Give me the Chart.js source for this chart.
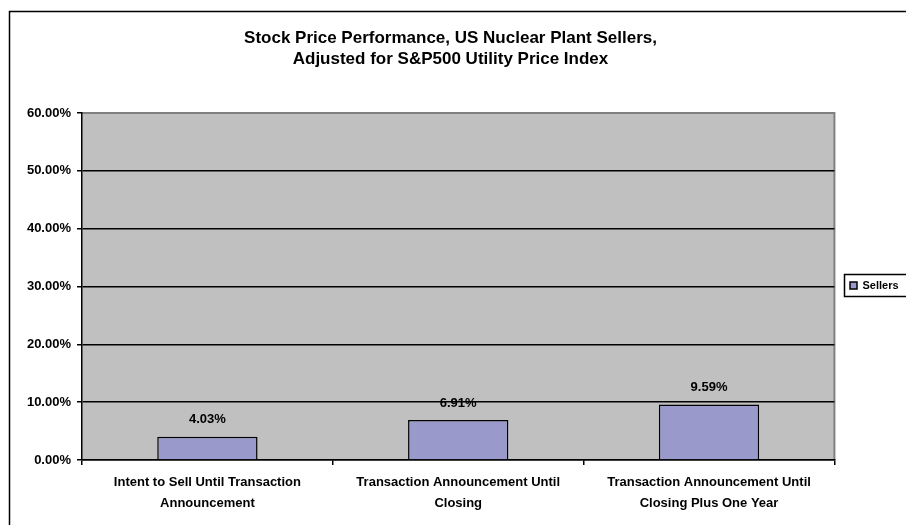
<!DOCTYPE html>
<html>
<head>
<meta charset="utf-8">
<script src="https://cdn.jsdelivr.net/npm/chart.js@4.4.1/dist/chart.umd.min.js"></script>
<style>
  html, body { margin: 0; padding: 0; background: #fff; }
  #wrap { width: 906px; height: 525px; }
</style>
</head>
<body>
<div id="wrap"><canvas id="chart" width="906" height="525"></canvas></div>
<script>
const categories = [
  ['Intent to Sell Until Transaction', 'Announcement'],
  ['Transaction Announcement Until', 'Closing'],
  ['Transaction Announcement Until', 'Closing Plus One Year']
];
const sellers = [4.03, 6.91, 9.59];
const seriesName = 'Sellers';
const titleLines = ['Stock Price Performance, US Nuclear Plant Sellers,', 'Adjusted for S&P500 Utility Price Index'];
const yMin = 0, yMax = 60, yStep = 10;

const FONT = '"Liberation Sans", Arial, sans-serif';

// grey plot area + outer frame
const backdrop = {
  id: 'backdrop',
  beforeDraw(chart) {
    const { ctx, chartArea: a } = chart;
    ctx.save();
    ctx.fillStyle = '#fff';
    ctx.fillRect(0, 0, chart.width, chart.height);
    ctx.fillStyle = '#c0c0c0';
    ctx.fillRect(a.left, a.top, a.right - a.left, a.bottom - a.top);
    ctx.strokeStyle = '#808080';
    ctx.lineWidth = 2;
    ctx.beginPath();
    ctx.moveTo(a.left, a.top);
    ctx.lineTo(a.right, a.top);
    ctx.lineTo(a.right, a.bottom);
    ctx.stroke();
    ctx.strokeStyle = '#000';
    ctx.lineWidth = 1.5;
    ctx.strokeRect(9.5, 11.5, 950, 560);
    ctx.restore();
  }
};

// value labels above the bars
const barLabels = {
  id: 'barLabels',
  afterDatasetsDraw(chart) {
    const { ctx } = chart;
    const meta = chart.getDatasetMeta(0);
    ctx.save();
    ctx.font = 'bold 13px ' + FONT;
    ctx.fillStyle = '#000';
    ctx.textAlign = 'center';
    ctx.textBaseline = 'middle';
    meta.data.forEach((bar, i) => {
      ctx.fillText(sellers[i].toFixed(2) + '%', bar.x, bar.y - 17);
    });
    ctx.restore();
  }
};

// move the legend next to the plot, middle height, and box it
const legendBox = {
  id: 'legendBox',
  afterUpdate(chart) {
    const lg = chart.legend;
    if (!lg || !lg.legendHitBoxes.length) return;
    const a = chart.chartArea;
    const hb = lg.legendHitBoxes[0];
    const dy = (a.top + a.bottom) / 2 - 1 - (hb.top + hb.height / 2);
    const dx = 850 - hb.left;
    lg.top += dy; lg.bottom += dy;
    lg.left += dx; lg.right += dx;
    lg.legendHitBoxes.forEach(b => { b.top += dy; b.left += dx; });
  },
  afterDraw(chart) {
    const lg = chart.legend;
    if (!lg || !lg.legendHitBoxes.length) return;
    const hb = lg.legendHitBoxes[0];
    const { ctx } = chart;
    ctx.save();
    ctx.strokeStyle = '#000';
    ctx.lineWidth = 1.5;
    ctx.strokeRect(hb.left - 5.5, hb.top - 5.5, 100, hb.height + 11);
    ctx.restore();
  }
};

new Chart(document.getElementById('chart'), {
  type: 'bar',
  data: {
    labels: categories,
    datasets: [{
      label: seriesName,
      data: sellers,
      backgroundColor: '#9999cc',
      borderColor: '#000',
      borderWidth: 1.5,
      barPercentage: 0.4,
      categoryPercentage: 1
    }]
  },
  options: {
    responsive: false,
    animation: false,
    layout: { padding: { left: 0, right: 5, top: 0, bottom: 4 } },
    plugins: {
      title: {
        display: true,
        text: titleLines,
        color: '#000',
        font: { family: FONT, size: 17, weight: 'bold', lineHeight: 21 / 17 },
        padding: { top: 28, bottom: 43 }
      },
      legend: {
        position: 'right',
        labels: {
          boxWidth: 7,
          boxHeight: 7,
          color: '#000',
          font: { family: FONT, size: 11, weight: 'bold' },
          padding: 8
        }
      },
      tooltip: { enabled: false }
    },
    scales: {
      x: {
        grid: {
          offset: true,
          drawOnChartArea: false,
          drawTicks: true,
          tickLength: 5,
          color: '#000',
          lineWidth: 1.5
        },
        border: { color: '#000', width: 1.5 },
        ticks: {
          color: '#000',
          autoSkip: false,
          maxRotation: 0,
          padding: 7,
          font: { family: FONT, size: 13, weight: 'bold', lineHeight: 21 / 13 }
        }
      },
      y: {
        min: yMin,
        max: yMax,
        afterFit(scale) { scale.width = 82; },
        grid: {
          color: ctx => ctx.tick && ctx.tick.value === yMax ? '#808080' : '#000',
          tickColor: '#000',
          lineWidth: 1.5,
          tickLength: 5
        },
        border: { color: '#000', width: 1.5 },
        ticks: {
          stepSize: yStep,
          color: '#000',
          padding: 6,
          font: { family: FONT, size: 13, weight: 'bold' },
          callback: v => v.toFixed(2) + '%'
        }
      }
    }
  },
  plugins: [backdrop, barLabels, legendBox]
});
</script>
</body>
</html>
